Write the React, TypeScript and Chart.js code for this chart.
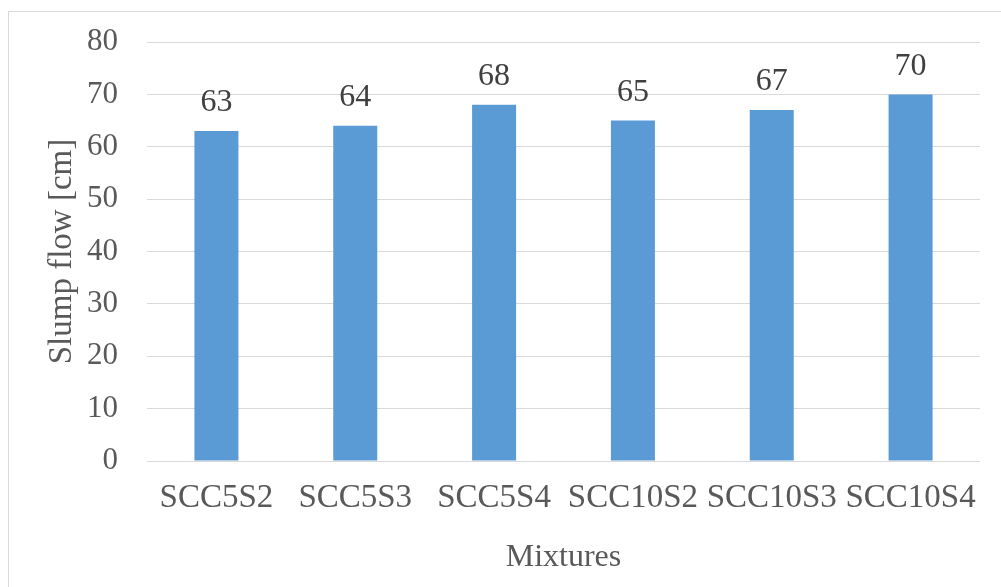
import React, { useEffect, useRef } from "react";
import { Chart, registerables } from "chart.js";

Chart.register(...registerables);

const mixtures = ["SCC5S2", "SCC5S3", "SCC5S4", "SCC10S2", "SCC10S3", "SCC10S4"];
const slumpFlow = [63, 64, 68, 65, 67, 70];
const yTicks = [0, 10, 20, 30, 40, 50, 60, 70, 80];

const FONT = "'Liberation Serif', 'Times New Roman', serif";

const valueLabels = {
  id: "valueLabels",
  afterDatasetsDraw(chart: any) {
    const { ctx } = chart;
    const meta = chart.getDatasetMeta(0);
    ctx.save();
    ctx.font = `32px ${FONT}`;
    ctx.fillStyle = "#404040";
    ctx.textAlign = "center";
    ctx.textBaseline = "middle";
    meta.data.forEach((bar: any, i: number) => {
      ctx.fillText(String(slumpFlow[i]), bar.x, bar.y - 28);
    });
    ctx.restore();
  },
};

export default function App() {
  const canvasRef = useRef<HTMLCanvasElement>(null);

  useEffect(() => {
    const chart = new Chart(canvasRef.current!, {
      type: "bar",
      data: {
        labels: mixtures,
        datasets: [
          {
            data: slumpFlow,
            backgroundColor: "#5B9BD5",
            borderWidth: 0,
            barPercentage: 0.317,
            categoryPercentage: 1,
          },
        ],
      },
      options: {
        animation: false,
        responsive: false,
        layout: { padding: { top: 42, right: 21, bottom: 0, left: 0 } },
        plugins: { legend: { display: false }, tooltip: { enabled: false } },
        scales: {
          x: {
            grid: { display: false, drawTicks: false },
            border: { display: false },
            ticks: {
              color: "#595959",
              font: { family: FONT, size: 33 },
              padding: 18,
              maxRotation: 0,
              autoSkip: false,
            },
            title: {
              display: true,
              text: "Mixtures",
              color: "#595959",
              font: { family: FONT, size: 32 },
              padding: { top: 0, bottom: 10 },
            },
            afterFit(scale: any) {
              scale.height = 126;
            },
          },
          y: {
            min: 0,
            max: 80,
            afterBuildTicks(scale: any) {
              scale.ticks = yTicks.map((v) => ({ value: v }));
            },
            grid: { color: "#d9d9d9", lineWidth: 1, drawTicks: false },
            border: { display: false },
            ticks: {
              color: "#595959",
              font: { family: FONT, size: 31 },
              padding: 29,
            },
            title: {
              display: true,
              text: "Slump flow [cm]",
              color: "#595959",
              font: { family: FONT, size: 33 },
              padding: { top: 43, bottom: 0 },
            },
            afterFit(scale: any) {
              scale.width = 147;
              scale.paddingTop = 0;
              scale.paddingBottom = 0;
            },
          },
        },
      },
      plugins: [valueLabels],
    });
    return () => chart.destroy();
  }, []);

  return (
    <div
      style={{
        position: "fixed",
        left: 0,
        top: 0,
        width: 1001,
        height: 587,
        overflow: "hidden",
        background: "#fff",
      }}
    >
      <div
        style={{
          position: "absolute",
          left: 8,
          top: 11,
          width: 1020,
          height: 620,
          border: "1px solid #d9d9d9",
        }}
      />
      <canvas
        ref={canvasRef}
        width={1001}
        height={587}
        style={{ position: "absolute", left: 0, top: 0, width: 1001, height: 587 }}
      />
    </div>
  );
}
